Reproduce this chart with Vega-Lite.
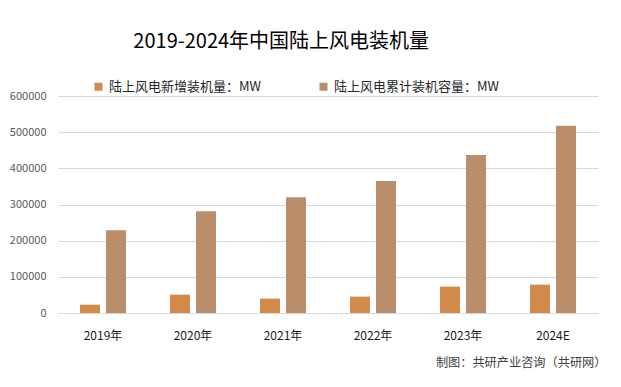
{
  "$schema": "https://vega.github.io/schema/vega-lite/v6.json",
  "autosize": "none",
  "width": 540,
  "height": 217,
  "padding": {"left": 58, "top": 96, "right": 23, "bottom": 74},
  "background": "white",
  "title": {
    "text": "2019-2024年中国陆上风电装机量",
    "anchor": "start",
    "dx": 124,
    "offset": 28,
    "fontSize": 20,
    "font": "Noto Sans CJK SC",
    "fontWeight": "normal",
    "color": "#000000"
  },
  "data": {
    "values": [
      {"year": "2019年", "series": "陆上风电新增装机量：MW", "value": 23000},
      {"year": "2019年", "series": "陆上风电累计装机容量：MW", "value": 228600},
      {"year": "2020年", "series": "陆上风电新增装机量：MW", "value": 50800},
      {"year": "2020年", "series": "陆上风电累计装机容量：MW", "value": 281400},
      {"year": "2021年", "series": "陆上风电新增装机量：MW", "value": 39700},
      {"year": "2021年", "series": "陆上风电累计装机容量：MW", "value": 320300},
      {"year": "2022年", "series": "陆上风电新增装机量：MW", "value": 45300},
      {"year": "2022年", "series": "陆上风电累计装机容量：MW", "value": 364700},
      {"year": "2023年", "series": "陆上风电新增装机量：MW", "value": 73000},
      {"year": "2023年", "series": "陆上风电累计装机容量：MW", "value": 436900},
      {"year": "2024E", "series": "陆上风电新增装机量：MW", "value": 78600},
      {"year": "2024E", "series": "陆上风电累计装机容量：MW", "value": 517500}
    ]
  },
  "mark": {"type": "bar"},
  "encoding": {
    "x": {
      "field": "year",
      "type": "nominal",
      "sort": null,
      "scale": {"paddingInner": 0.489, "paddingOuter": 0.2445},
      "axis": {
        "title": "制图：共研产业咨询（共研网）",
        "titleAnchor": "end",
        "titleAlign": "right",
        "titleX": 548,
        "titleY": 49,
        "titleBaseline": "middle",
        "titleFont": "Noto Sans CJK SC",
        "titleFontSize": 12.2,
        "titleFontWeight": "normal",
        "titleColor": "#404040",
        "labelAngle": 0,
        "labelFont": "Noto Sans CJK SC",
        "labelFontSize": 12,
        "labelColor": "#1a1a1a",
        "labelPadding": 17,
        "ticks": false,
        "domainColor": "#d9d9d9",
        "domainWidth": 1
      }
    },
    "xOffset": {
      "field": "series",
      "type": "nominal",
      "sort": null,
      "scale": {"paddingInner": 0.23, "paddingOuter": 0}
    },
    "y": {
      "field": "value",
      "type": "quantitative",
      "scale": {"domain": [0, 600000], "nice": false},
      "axis": {
        "title": null,
        "values": [0, 100000, 200000, 300000, 400000, 500000, 600000],
        "format": "d",
        "labelFont": "Noto Sans CJK SC",
        "labelFontSize": 11,
        "labelColor": "#595959",
        "labelPadding": 12,
        "ticks": false,
        "domain": false,
        "gridColor": "#d9d9d9",
        "gridWidth": 1
      }
    },
    "color": {
      "field": "series",
      "type": "nominal",
      "sort": null,
      "scale": {"range": ["#D38B4C", "#BA8E6A"]},
      "legend": {
        "title": null,
        "orient": "none",
        "legendX": 34,
        "legendY": -16,
        "direction": "horizontal",
        "columns": 2,
        "columnPadding": 56,
        "symbolType": "square",
        "symbolSize": 64,
        "symbolStrokeWidth": 0,
        "labelFont": "Noto Sans CJK SC",
        "labelFontSize": 13,
        "labelColor": "#262626",
        "labelOffset": 4,
        "labelLimit": 0
      }
    }
  },
  "config": {
    "view": {"stroke": null}
  }
}
